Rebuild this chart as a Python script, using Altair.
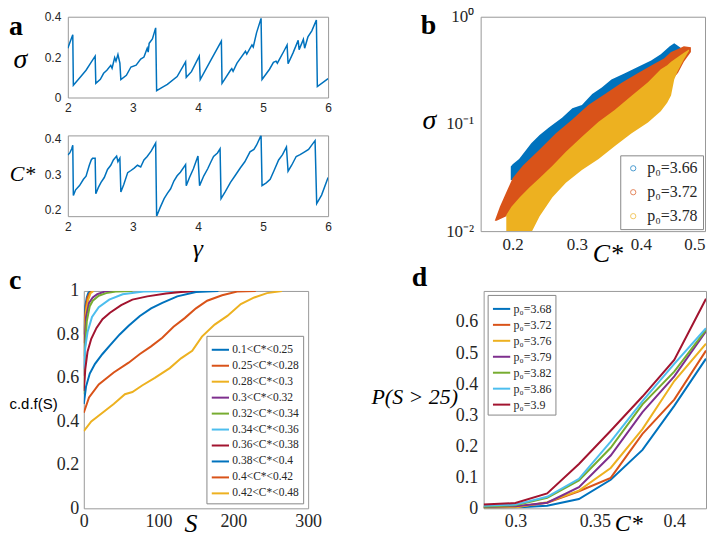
import altair as alt
import pandas as pd

BLUE, ORANGE, YELLOW = "#0072BD", "#D95319", "#EDB120"
PURPLE, GREEN, CYAN, CRIMSON = "#7E2F8E", "#77AC30", "#4DBEEE", "#A2142F"
SERIF, SANS, INK = "Liberation Serif", "Liberation Sans", "#262626"

# ---------------- panel a : sigma(gamma) and C*(gamma) ----------------
sig_gamma = [2.00, 2.04, 2.076, 2.085, 2.20, 2.28, 2.35, 2.42, 2.43, 2.50, 2.55, 2.60, 2.66, 2.68,
             2.72, 2.74, 2.77, 2.80, 2.815, 2.90, 2.97, 3.05, 3.12, 3.17, 3.22, 3.235, 3.25, 3.30,
             3.35, 3.365, 3.45, 3.53, 3.68, 3.81, 3.82, 3.90, 4.02, 4.035, 4.19, 4.36, 4.37, 4.50,
             4.52, 4.54, 4.60, 4.73, 4.75, 4.83, 4.85, 4.90, 4.97, 4.985, 5.10, 5.16, 5.20, 5.22,
             5.32, 5.37, 5.385, 5.46, 5.54, 5.555, 5.62, 5.64, 5.69, 5.75, 5.82, 5.835, 6.00]
sig_vals = [0.244, 0.280, 0.311, 0.061, 0.104, 0.135, 0.170, 0.205, 0.070, 0.090, 0.120, 0.135, 0.159, 0.145,
            0.198, 0.180, 0.213, 0.170, 0.089, 0.110, 0.151, 0.160, 0.190, 0.200, 0.244, 0.225, 0.268, 0.290,
            0.345, 0.034, 0.050, 0.065, 0.104, 0.177, 0.100, 0.128, 0.205, 0.089, 0.180, 0.279, 0.070, 0.135,
            0.143, 0.130, 0.170, 0.229, 0.215, 0.260, 0.250, 0.320, 0.392, 0.089, 0.140, 0.174, 0.180, 0.170,
            0.229, 0.260, 0.167, 0.220, 0.283, 0.237, 0.288, 0.244, 0.300, 0.330, 0.384, 0.054, 0.093]

cst_gamma = [2.00, 2.03, 2.06, 2.076, 2.085, 2.12, 2.18, 2.24, 2.28, 2.33, 2.36, 2.38, 2.42, 2.43,
             2.47, 2.51, 2.56, 2.61, 2.66, 2.70, 2.75, 2.77, 2.80, 2.815, 2.86, 2.92, 2.97, 3.02,
             3.07, 3.12, 3.17, 3.22, 3.28, 3.35, 3.365, 3.42, 3.48, 3.53, 3.58, 3.63, 3.68, 3.73,
             3.81, 3.82, 3.87, 3.93, 4.00, 4.025, 4.09, 4.15, 4.20, 4.24, 4.30, 4.34, 4.355, 4.42,
             4.50, 4.57, 4.65, 4.72, 4.80, 4.86, 4.90, 4.97, 4.985, 5.05, 5.11, 5.17, 5.24, 5.30,
             5.36, 5.385, 5.44, 5.51, 5.57, 5.64, 5.70, 5.76, 5.80, 5.825, 5.90, 6.00]
cst_vals = [0.354, 0.360, 0.372, 0.382, 0.239, 0.255, 0.267, 0.285, 0.294, 0.325, 0.340, 0.345, 0.345, 0.244,
            0.262, 0.276, 0.290, 0.313, 0.325, 0.340, 0.351, 0.335, 0.345, 0.249, 0.270, 0.304, 0.310, 0.317,
            0.325, 0.320, 0.340, 0.350, 0.365, 0.388, 0.180, 0.205, 0.230, 0.245, 0.258, 0.280, 0.295, 0.305,
            0.327, 0.267, 0.290, 0.315, 0.351, 0.267, 0.295, 0.315, 0.335, 0.350, 0.360, 0.372, 0.230, 0.250,
            0.276, 0.295, 0.317, 0.335, 0.363, 0.370, 0.382, 0.410, 0.267, 0.275, 0.285, 0.310, 0.340, 0.355,
            0.377, 0.308, 0.325, 0.350, 0.355, 0.363, 0.370, 0.385, 0.395, 0.216, 0.240, 0.290]

# ---------------- panel b : sigma vs C* clouds (upper / lower envelopes) ----------------
b_labels = ["p\u2080=3.66", "p\u2080=3.72", "p\u2080=3.78"]
b_blue_x = [0.197, 0.200, 0.210, 0.229, 0.242, 0.257, 0.277, 0.293, 0.308, 0.324, 0.339, 0.354, 0.375,
            0.395, 0.416, 0.431, 0.445, 0.452, 0.462]
b_blue_hi = [0.040, 0.042, 0.047, 0.066, 0.079, 0.093, 0.114, 0.140, 0.150, 0.190, 0.219, 0.259, 0.297,
             0.340, 0.390, 0.447, 0.530, 0.567, 0.513]
b_blue_lo = [0.030, 0.030, 0.033, 0.042, 0.050, 0.060, 0.075, 0.090, 0.100, 0.120, 0.140, 0.165, 0.200,
             0.240, 0.280, 0.320, 0.400, 0.450, 0.450]
b_or_x = [0.172, 0.175, 0.180, 0.190, 0.200, 0.216, 0.242, 0.267, 0.293, 0.318, 0.344, 0.370, 0.395,
          0.421, 0.436, 0.447, 0.458, 0.467, 0.478]
b_or_hi = [0.0125, 0.0140, 0.0169, 0.0230, 0.0313, 0.0410, 0.0577, 0.0813, 0.110, 0.150, 0.190, 0.242,
           0.297, 0.364, 0.407, 0.468, 0.500, 0.530, 0.520]
b_or_lo = [0.0125, 0.0125, 0.0129, 0.0138, 0.0170, 0.0200, 0.0240, 0.0300, 0.040, 0.050, 0.065, 0.085,
           0.110, 0.150, 0.200, 0.250, 0.300, 0.380, 0.470]
b_ye_x = [0.190, 0.198, 0.211, 0.226, 0.242, 0.262, 0.283, 0.308, 0.334, 0.359, 0.385, 0.411, 0.431,
          0.441, 0.447, 0.452, 0.457, 0.467, 0.475]
b_ye_hi = [0.0141, 0.0169, 0.0207, 0.0255, 0.0313, 0.0407, 0.0550, 0.0759, 0.1047, 0.135, 0.182, 0.245,
           0.324, 0.352, 0.380, 0.398, 0.418, 0.462, 0.495]
b_ye_lo = [0.0079, 0.0079, 0.0079, 0.0089, 0.0138, 0.0207, 0.0282, 0.0371, 0.0471, 0.0618, 0.0813, 0.103,
           0.131, 0.158, 0.184, 0.259, 0.307, 0.398, 0.479]

# ---------------- panel c : c.d.f.(S) per C* bin ----------------
c_bins = ["0.1<C*<0.25", "0.25<C*<0.28", "0.28<C*<0.3", "0.3<C*<0.32", "0.32<C*<0.34",
          "0.34<C*<0.36", "0.36<C*<0.38", "0.38<C*<0.4", "0.4<C*<0.42", "0.42<C*<0.48"]
c_colors = [BLUE, ORANGE, YELLOW, PURPLE, GREEN, CYAN, CRIMSON, BLUE, ORANGE, YELLOW]
c_S = [
    [0, 1, 2, 4, 6, 9],
    [0, 1, 3, 5, 8, 11],
    [0, 1, 3, 6, 9, 13],
    [0, 1, 3, 7, 12, 18, 28, 40],
    [0, 1.5, 4, 8, 12, 20, 30, 45, 65],
    [0, 2, 5, 11, 20, 34, 52, 80, 120],
    [0, 2, 5, 10, 17, 25, 35, 50, 65, 85, 110, 130, 155],
    [0, 3, 8, 15, 25, 35, 48, 60, 75, 90, 105, 125, 150, 180],
    [0, 7, 20, 40, 60, 75, 90, 105, 120, 135, 150, 165, 185, 205, 230],
    [0, 10, 25, 40, 55, 65, 78, 95, 115, 130, 145, 158, 175, 192, 210, 228, 245, 265],
]
c_F = [
    [0.80, 0.88, 0.93, 0.97, 0.99, 1.0],
    [0.76, 0.86, 0.93, 0.97, 0.99, 1.0],
    [0.70, 0.82, 0.91, 0.96, 0.99, 1.0],
    [0.61, 0.75, 0.88, 0.945, 0.97, 0.985, 0.997, 1.0],
    [0.525, 0.73, 0.86, 0.93, 0.955, 0.978, 0.99, 0.998, 1.0],
    [0.64, 0.74, 0.81, 0.88, 0.925, 0.96, 0.985, 0.997, 1.0],
    [0.54, 0.64, 0.72, 0.78, 0.83, 0.87, 0.90, 0.935, 0.96, 0.975, 0.988, 0.995, 1.0],
    [0.48, 0.56, 0.62, 0.665, 0.71, 0.75, 0.80, 0.84, 0.885, 0.92, 0.945, 0.975, 0.995, 1.0],
    [0.44, 0.51, 0.57, 0.625, 0.67, 0.71, 0.745, 0.785, 0.835, 0.875, 0.92, 0.955, 0.98, 0.997, 1.0],
    [0.355, 0.40, 0.44, 0.48, 0.525, 0.535, 0.565, 0.60, 0.645, 0.69, 0.725, 0.79, 0.845, 0.885,
     0.94, 0.97, 0.99, 1.0],
]

# ---------------- panel d : P(S > 25) vs C* ----------------
d_labels = ["p\u2080=3.68", "p\u2080=3.72", "p\u2080=3.76", "p\u2080=3.79", "p\u2080=3.82",
            "p\u2080=3.86", "p\u2080=3.9"]
d_colors = [BLUE, ORANGE, YELLOW, PURPLE, GREEN, CYAN, CRIMSON]
d_C = [0.28, 0.30, 0.32, 0.34, 0.36, 0.38, 0.40, 0.42]
d_P = [
    [0.000, 0.003, 0.008, 0.030, 0.092, 0.188, 0.330, 0.482],
    [0.002, 0.004, 0.018, 0.055, 0.098, 0.240, 0.350, 0.508],
    [0.000, 0.003, 0.020, 0.057, 0.130, 0.255, 0.410, 0.530],
    [0.004, 0.007, 0.018, 0.068, 0.170, 0.310, 0.425, 0.570],
    [0.005, 0.010, 0.034, 0.090, 0.195, 0.335, 0.440, 0.575],
    [0.008, 0.012, 0.037, 0.095, 0.215, 0.345, 0.465, 0.580],
    [0.012, 0.017, 0.048, 0.143, 0.250, 0.360, 0.478, 0.675],
]


def axis(values, fmt, font, size, pad, **kw):
    return alt.Axis(values=values, format=fmt, labelFont=font, labelFontSize=size, labelColor=INK,
                    labelPadding=pad, domain=False, ticks=False, grid=False, labelFlush=False,
                    labelOverlap=False, **kw)


def ttl(text, font, size, x, y, style="italic", align="center"):
    return dict(title=text, titleFont=font, titleFontSize=size, titleFontStyle=style,
                titleFontWeight="normal", titleColor="black", titleAngle=0, titleX=x, titleY=y,
                titleAlign=align, titleBaseline="middle")


def letter(t, x, y):
    return alt.Chart(pd.DataFrame({"t": [t]})).mark_text(
        font=SERIF, fontSize=28, fontWeight="bold", align="left", baseline="middle", color="black"
    ).encode(x=alt.value(x), y=alt.value(y), text="t:N")


def legend(orient, offset, size, rowpad, stype="stroke", ssize=300, pad=4, loff=2):
    return alt.Legend(title=None, orient=orient, offset=offset, fillColor="white", strokeColor="#888",
                      padding=pad, labelFont=SERIF, labelFontSize=size, labelColor=INK,
                      symbolType=stype, symbolSize=ssize, symbolStrokeWidth=2 if stype == "stroke" else 1,
                      rowPadding=rowpad, labelOffset=loff, labelLimit=300)


# ---- a1
a1_line = alt.Chart(pd.DataFrame({"g": sig_gamma, "v": sig_vals})).mark_line(
    color=BLUE, strokeWidth=1.5, clip=True).encode(
    x=alt.X("g:Q", scale=alt.Scale(domain=[2, 6], nice=False),
            axis=axis([2, 3, 4, 5, 6], "d", SANS, 12, 5, title=None)),
    y=alt.Y("v:Q", scale=alt.Scale(domain=[0, 0.4], nice=False),
            axis=axis([0, 0.2, 0.4], ".1~f", SANS, 12, 7, **ttl("σ", SERIF, 28, -48, 43))),
)
a1 = alt.layer(a1_line, letter("a", -59, 10)).properties(width=261, height=81)

# ---- a2
a2 = alt.Chart(pd.DataFrame({"g": cst_gamma, "v": cst_vals})).mark_line(
    color=BLUE, strokeWidth=1.5, clip=True).encode(
    x=alt.X("g:Q", scale=alt.Scale(domain=[2, 6], nice=False),
            axis=axis([2, 3, 4, 5, 6], "d", SANS, 12, 5, **ttl("γ", SERIF, 26, 130, 32))),
    y=alt.Y("v:Q", scale=alt.Scale(domain=[0.18, 0.41], nice=False),
            axis=axis([0.2, 0.3, 0.4], ".1f", SANS, 12, 7, **ttl("C*", SERIF, 22, -46, 38))),
).properties(width=261, height=81)

# ---- b
bx = alt.Scale(domain=[0.15, 0.5], nice=False)
by = alt.Scale(type="log", domain=[0.01, 1], nice=False)
b_xaxis = axis([0.2, 0.3, 0.4, 0.5], ".1f", SERIF, 17, 5,
               labelAlign=alt.condition("datum.value > 0.45", alt.value("right"), alt.value("center")),
               **ttl("C*", SERIF, 26, 127, 22))
b_yaxis = axis([0.01, 0.1, 1], "", SERIF, 17, 7,
               labelExpr="datum.value > 0.5 ? '10⁰' : (datum.value > 0.05 ? '10⁻¹' : '10⁻²')",
               **ttl("σ", SERIF, 28, -52, 104))


def cloud(xs, lo, hi, color):
    return alt.Chart(pd.DataFrame({"c": xs, "lo": lo, "hi": hi})).mark_area(
        color=color, opacity=1, clip=True).encode(
        x=alt.X("c:Q", scale=bx, axis=b_xaxis),
        y=alt.Y("hi:Q", scale=by, axis=b_yaxis),
        y2="lo:Q",
    )


b_key = alt.Chart(pd.DataFrame({"c": [0.1, 0.1, 0.1], "s": [0.1, 0.1, 0.1], "p0b": b_labels})).mark_point(
    filled=False, shape="circle", size=28, strokeWidth=1, clip=True).encode(
    x=alt.X("c:Q", scale=bx, axis=b_xaxis),
    y=alt.Y("s:Q", scale=by, axis=b_yaxis),
    color=alt.Color("p0b:N", scale=alt.Scale(domain=b_labels, range=[BLUE, ORANGE, YELLOW]),
                    legend=legend("bottom-right", 2, 16, 8, stype="circle", ssize=28, pad=5, loff=6)),
)
b = alt.layer(cloud(b_blue_x, b_blue_lo, b_blue_hi, BLUE),
              cloud(b_or_x, b_or_lo, b_or_hi, ORANGE),
              cloud(b_ye_x, b_ye_lo, b_ye_hi, YELLOW),
              b_key, letter("b", -60, 9)).properties(width=225, height=215)

# ---- c
c_df = pd.DataFrame([{"S": s, "F": f, "cbin": lab}
                     for lab, ss, ff in zip(c_bins, c_S, c_F) for s, f in zip(ss, ff)])
c_line = alt.Chart(c_df).mark_line(strokeWidth=2, clip=True).encode(
    x=alt.X("S:Q", scale=alt.Scale(domain=[0, 300], nice=False),
            axis=axis([0, 100, 200, 300], "d", SERIF, 18, 4, **ttl("S", SERIF, 26, 107, 15))),
    y=alt.Y("F:Q", scale=alt.Scale(domain=[0, 1], nice=False),
            axis=axis([0, 0.2, 0.4, 0.6, 0.8, 1], ".1~f", SERIF, 18, 5,
                      **ttl("c.d.f(S)", SANS, 15, -75, 113, style="normal", align="left"))),
    color=alt.Color("cbin:N", scale=alt.Scale(domain=c_bins, range=c_colors),
                    legend=legend("bottom-right", 5, 11.5, 0)),
    detail="cbin:N",
)
c = alt.layer(c_line, letter("c", -75, -10)).properties(width=225, height=218)

# ---- d
d_df = pd.DataFrame([{"C": x, "P": p, "p0d": lab}
                     for lab, pp in zip(d_labels, d_P) for x, p in zip(d_C, pp)])
d_line = alt.Chart(d_df).mark_line(strokeWidth=2, clip=True).encode(
    x=alt.X("C:Q", scale=alt.Scale(domain=[0.28, 0.42], nice=False),
            axis=axis([0.3, 0.35, 0.4], "~g", SERIF, 18, 4, **ttl("C*", SERIF, 24, 145, 15))),
    y=alt.Y("P:Q", scale=alt.Scale(domain=[0, 0.7], nice=False),
            axis=axis([0, 0.1, 0.2, 0.3, 0.4, 0.5, 0.6], ".1~f", SERIF, 18, 6,
                      **ttl("P(S > 25)", SERIF, 22, -113, 106, align="left"))),
    color=alt.Color("p0d:N", scale=alt.Scale(domain=d_labels, range=d_colors),
                    legend=legend("top-left", 4, 12, -2.5)),
    detail="p0d:N",
)
d = alt.layer(d_line, letter("d", -72, -13)).properties(width=223, height=218)

spacer = alt.Chart(pd.DataFrame({"t": [""]})).mark_text().encode(
    x=alt.value(0), y=alt.value(0), text="t:N").properties(
    width=1, height=1, view=alt.ViewBackground(strokeOpacity=0))

colA = alt.vconcat(a1, a2, spacing=38, bounds="flush")
row1 = alt.hconcat(colA, b, spacing=88).resolve_scale(color="independent").resolve_legend(
    color="independent")
inner = alt.hconcat(spacer, c, spacing=15, bounds="flush").resolve_scale(
    color="independent").resolve_legend(color="independent")
row2 = alt.hconcat(inner, d, spacing=48).resolve_scale(color="independent").resolve_legend(
    color="independent")

chart = alt.vconcat(row1, row2, spacing=-4).resolve_scale(color="independent").resolve_legend(
    color="independent").properties(
    padding={"top": -2, "bottom": 0, "left": 0, "right": 0}).configure_view(
    stroke="#999999", strokeWidth=1)

chart.save("out.html", embed_options={"renderer": "svg", "actions": False})
